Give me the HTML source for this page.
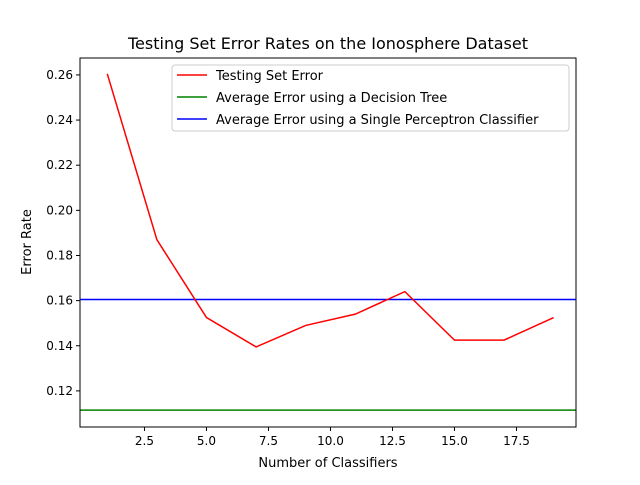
<!DOCTYPE html>
<html><head><meta charset="utf-8"><style>
body{margin:0;background:#fff;}
svg text{font-family:"DejaVu Sans","Liberation Sans",sans-serif;fill:#000;}
</style></head><body>
<svg id="chart" width="640" height="480" xmlns="http://www.w3.org/2000/svg">
<rect width="640" height="480" fill="#fff"/>
<text x="328" y="49" font-size="16" text-anchor="middle">Testing Set Error Rates on the Ionosphere Dataset</text>
<g id="plot"></g>
<rect x="80" y="58" width="496" height="369" fill="none" stroke="#000" stroke-width="1"/>
<text x="328" y="467" font-size="13" text-anchor="middle">Number of Classifiers</text>
<text x="31" y="242" font-size="13" text-anchor="middle" transform="rotate(-90 31 242)">Error Rate</text>
<g>
<rect x="172" y="65" width="397" height="66" rx="3" fill="#fff" stroke="#ccc"/>
<line x1="177" y1="75" x2="207" y2="75" stroke="#f00" stroke-width="1.5"/>
<text x="216" y="80" font-size="13">Testing Set Error</text>
<line x1="177" y1="97" x2="207" y2="97" stroke="#008000" stroke-width="1.5"/>
<text x="216" y="102" font-size="13">Average Error using a Decision Tree</text>
<line x1="177" y1="119" x2="207" y2="119" stroke="#00f" stroke-width="1.5"/>
<text x="216" y="124" font-size="13">Average Error using a Single Perceptron Classifier</text>
</g>
</svg>
<script>
const classifiers=[1,3,5,7,9,11,13,15,17,19];
const testErrors=[0.2605,0.187,0.1525,0.1395,0.149,0.154,0.164,0.1425,0.1425,0.1525];
const treeError=0.1115;
const perceptronError=0.1605;
const xTicks=[2.5,5.0,7.5,10.0,12.5,15.0,17.5];
const yTicks=[0.12,0.14,0.16,0.18,0.20,0.22,0.24,0.26];
const NS="http://www.w3.org/2000/svg";
const L=80,R=576,T=58,B=427,xmin=-0.1,xmax=19.9,ymin=0.104,ymax=0.2675;
const xs=v=>L+(v-xmin)/(xmax-xmin)*(R-L);
const ys=v=>B-(v-ymin)/(ymax-ymin)*(B-T);
const g=document.getElementById('plot');
function mk(t,a){const e=document.createElementNS(NS,t);for(const k in a)e.setAttribute(k,a[k]);g.appendChild(e);return e;}
xTicks.forEach(v=>{
 const l=mk('line',{x1:xs(v),x2:xs(v),y1:B,y2:B+4,stroke:'#000'});
 
 
 const t=mk('text',{x:xs(v),y:B+18,'font-size':12,'text-anchor':'middle'});
 t.textContent=v.toFixed(1);
 
 
});
yTicks.forEach(v=>{
 const l=mk('line',{x1:L-4,x2:L,y1:ys(v),y2:ys(v),stroke:'#000'});
 
 
 const t=mk('text',{x:L-7,y:ys(v)+4,'font-size':12,'text-anchor':'end'});
 t.textContent=v.toFixed(2);
 
 
});
const tl=mk('line',{x1:L,x2:R,y1:ys(treeError),y2:ys(treeError),stroke:'#008000','stroke-width':1.5});


const pl=mk('line',{x1:L,x2:R,y1:ys(perceptronError),y2:ys(perceptronError),stroke:'#00f','stroke-width':1.5});


const pts=classifiers.map((c,i)=>xs(c)+','+ys(testErrors[i])).join(' ');
const ln=mk('polyline',{points:pts,fill:'none',stroke:'#f00','stroke-width':1.5});


</script>
</body></html>
